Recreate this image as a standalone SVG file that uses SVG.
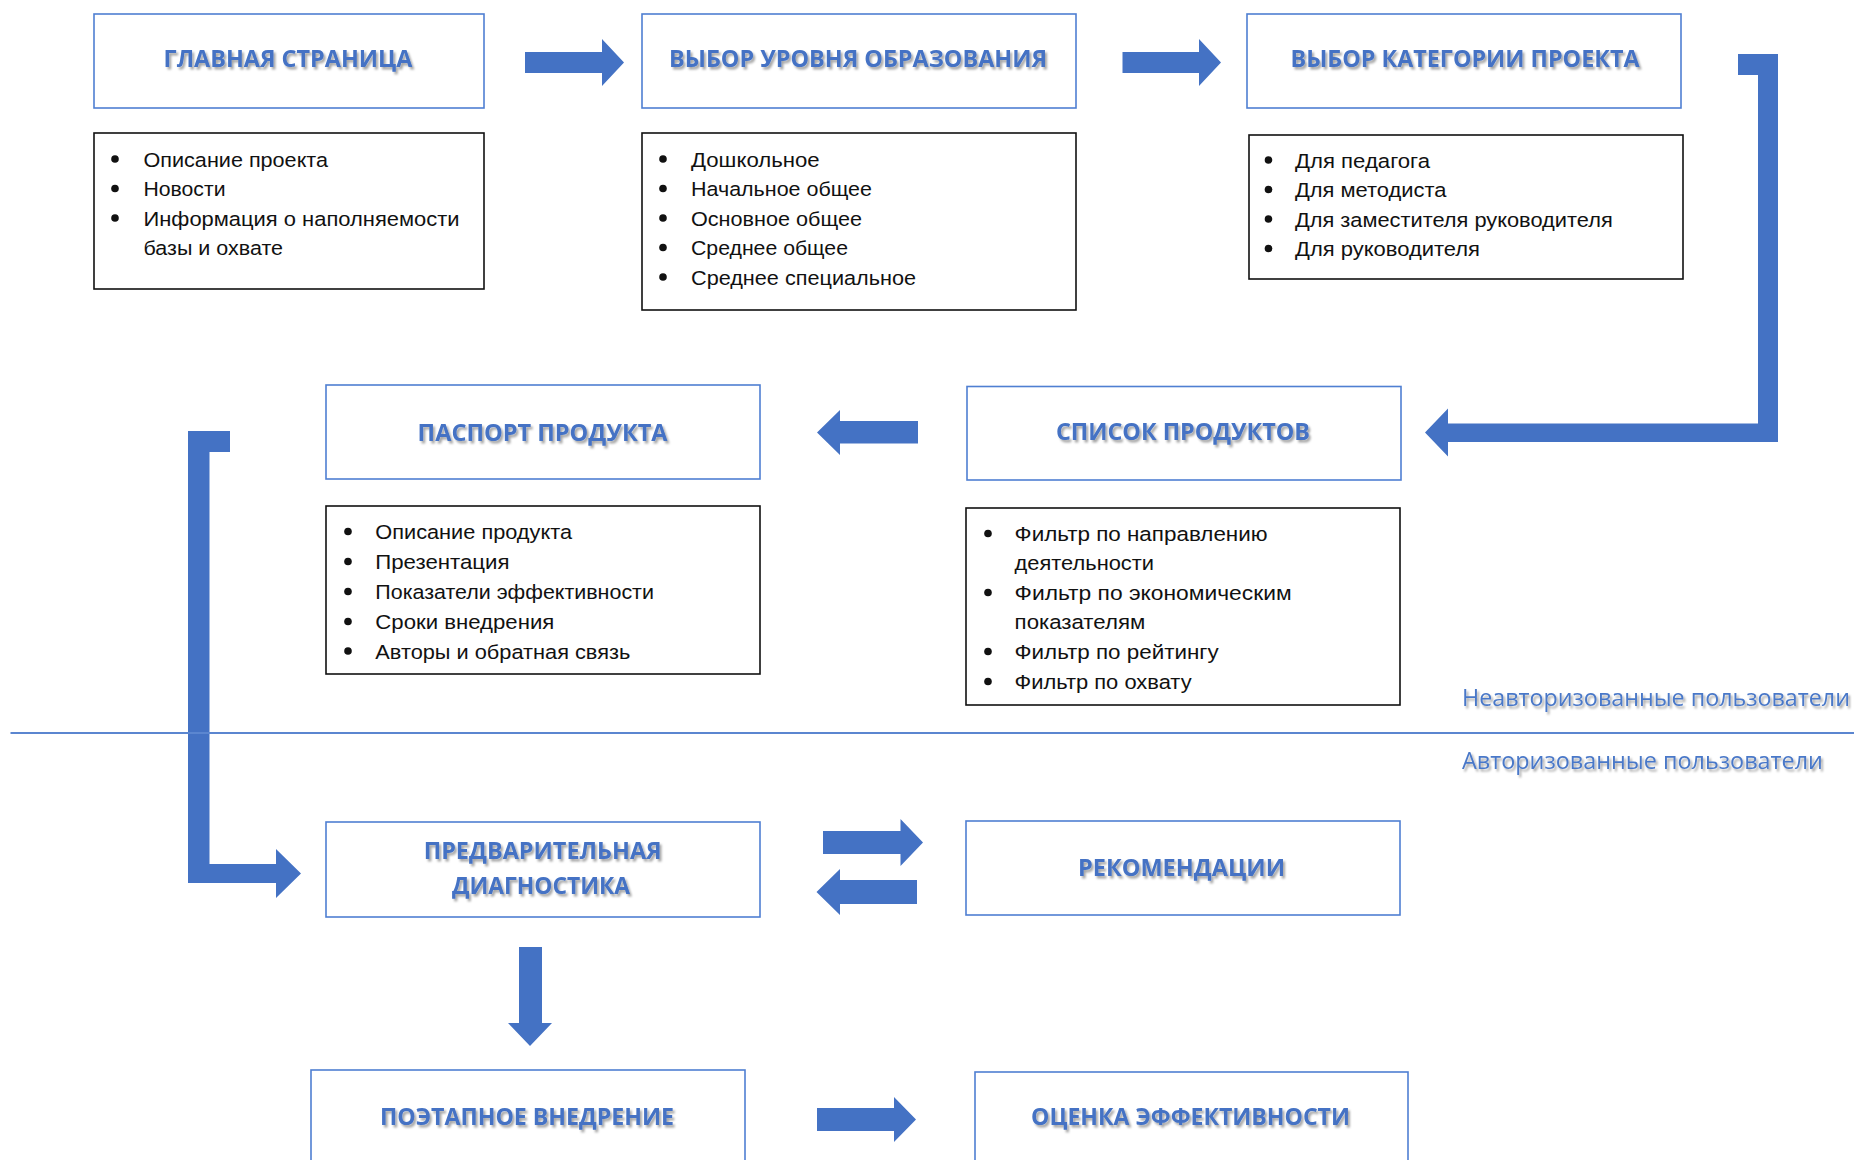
<svg xmlns="http://www.w3.org/2000/svg" width="1854" height="1160" viewBox="0 0 1854 1160">
<defs>
<filter id="sh" x="-10%" y="-40%" width="120%" height="180%">
<feDropShadow dx="2" dy="2.5" stdDeviation="1.3" flood-color="#000" flood-opacity="0.35"/>
</filter>
</defs>
<style>
.bx{fill:#fff;stroke:#4F7FD2;stroke-width:1.6}
.lb{fill:#fff;stroke:#111;stroke-width:1.6}
.t{font-family:"Open Sans","Liberation Sans",sans-serif;font-weight:700;font-size:24px;fill:#4472C4;text-anchor:middle;filter:url(#sh)}
.b{font-family:"Liberation Sans",Arial,sans-serif;font-size:20.5px;fill:#111}
.d{fill:#111}
.ar{fill:#4472C4}
.zl{font-family:"Open Sans","Liberation Sans",sans-serif;font-size:23.5px;fill:#4A78C8;filter:url(#sh)}
</style>
<rect width="1854" height="1160" fill="#fff"/>

<g id="connectors">
<polygon class="ar" points="525,52 602,52 602,39 624,62.5 602,86 602,73 525,73"/>
<polygon class="ar" points="1122.5,52 1199,52 1199,39 1221,62.5 1199,86 1199,73 1122.5,73"/>
<polygon class="ar" points="1738,54 1778,54 1778,442 1448,442 1448,456.5 1425,432.5 1448,408.5 1448,423.5 1758,423.5 1758,75 1738,75"/>
<polygon class="ar" points="918,421 840,421 840,410 817,432.5 840,455 840,443.5 918,443.5"/>
<polygon class="ar" points="230,431 188,431 188,883 276,883 276,898 301,873.5 276,849 276,864 209.5,864 209.5,452 230,452"/>
<polygon class="ar" points="823,831 900.5,831 900.5,819 923,842.5 900.5,866 900.5,854 823,854"/>
<polygon class="ar" points="917,880 840,880 840,869 816.5,892 840,915 840,904 917,904"/>
<polygon class="ar" points="519,947 542,947 542,1023 552,1023 530,1046 508,1023 519,1023"/>
<polygon class="ar" points="817,1108 894,1108 894,1097 916,1119.5 894,1142 894,1131 817,1131"/>
<line x1="10.5" y1="733" x2="1854" y2="733" stroke="#5B86D0" stroke-width="2"/>
</g>

<g id="node-main">
<rect class="bx" x="94" y="14" width="390" height="94"/>
<text class="t" x="288" y="67" textLength="249" lengthAdjust="spacingAndGlyphs">ГЛАВНАЯ СТРАНИЦА</text>
</g>
<g id="list-main">
<rect class="lb" x="94" y="133" width="390" height="156"/>
<circle class="d" cx="115" cy="159" r="3.8"/>
<circle class="d" cx="115" cy="188.5" r="3.8"/>
<circle class="d" cx="115" cy="218" r="3.8"/>
<text class="b" x="143.5" y="166.5" textLength="184.5" lengthAdjust="spacingAndGlyphs">Описание проекта</text>
<text class="b" x="143.5" y="196" textLength="82" lengthAdjust="spacingAndGlyphs">Новости</text>
<text class="b" x="143.5" y="225.5" textLength="316" lengthAdjust="spacingAndGlyphs">Информация о наполняемости</text>
<text class="b" x="143.5" y="255" textLength="139.5" lengthAdjust="spacingAndGlyphs">базы и охвате</text>
</g>

<g id="node-level">
<rect class="bx" x="642" y="14" width="434" height="94"/>
<text class="t" x="858" y="67" textLength="378" lengthAdjust="spacingAndGlyphs">ВЫБОР УРОВНЯ ОБРАЗОВАНИЯ</text>
</g>
<g id="list-level">
<rect class="lb" x="642" y="133" width="434" height="177"/>
<circle class="d" cx="663" cy="159" r="3.8"/>
<circle class="d" cx="663" cy="188.5" r="3.8"/>
<circle class="d" cx="663" cy="218" r="3.8"/>
<circle class="d" cx="663" cy="247.5" r="3.8"/>
<circle class="d" cx="663" cy="277" r="3.8"/>
<text class="b" x="691" y="166.5" textLength="128.7" lengthAdjust="spacingAndGlyphs">Дошкольное</text>
<text class="b" x="691" y="196" textLength="181" lengthAdjust="spacingAndGlyphs">Начальное общее</text>
<text class="b" x="691" y="225.5" textLength="171" lengthAdjust="spacingAndGlyphs">Основное общее</text>
<text class="b" x="691" y="255" textLength="157" lengthAdjust="spacingAndGlyphs">Среднее общее</text>
<text class="b" x="691" y="284.5" textLength="225" lengthAdjust="spacingAndGlyphs">Среднее специальное</text>
</g>

<g id="node-category">
<rect class="bx" x="1247" y="14" width="434" height="94"/>
<text class="t" x="1465" y="67" textLength="349" lengthAdjust="spacingAndGlyphs">ВЫБОР КАТЕГОРИИ ПРОЕКТА</text>
</g>
<g id="list-category">
<rect class="lb" x="1249" y="135" width="434" height="144"/>
<circle class="d" cx="1268.5" cy="160" r="3.8"/>
<circle class="d" cx="1268.5" cy="189.5" r="3.8"/>
<circle class="d" cx="1268.5" cy="219" r="3.8"/>
<circle class="d" cx="1268.5" cy="248.5" r="3.8"/>
<text class="b" x="1295" y="167.5" textLength="135" lengthAdjust="spacingAndGlyphs">Для педагога</text>
<text class="b" x="1295" y="197" textLength="151.5" lengthAdjust="spacingAndGlyphs">Для методиста</text>
<text class="b" x="1295" y="226.5" textLength="317.7" lengthAdjust="spacingAndGlyphs">Для заместителя руководителя</text>
<text class="b" x="1295" y="256" textLength="185" lengthAdjust="spacingAndGlyphs">Для руководителя</text>
</g>

<g id="node-passport">
<rect class="bx" x="326" y="385" width="434" height="94"/>
<text class="t" x="542.6" y="440.5" textLength="250" lengthAdjust="spacingAndGlyphs">ПАСПОРТ ПРОДУКТА</text>
</g>
<g id="list-passport">
<rect class="lb" x="326" y="506" width="434" height="168"/>
<circle class="d" cx="348" cy="531.5" r="3.8"/>
<circle class="d" cx="348" cy="561.5" r="3.8"/>
<circle class="d" cx="348" cy="591.5" r="3.8"/>
<circle class="d" cx="348" cy="621.5" r="3.8"/>
<circle class="d" cx="348" cy="651" r="3.8"/>
<text class="b" x="375.3" y="539" textLength="196.7" lengthAdjust="spacingAndGlyphs">Описание продукта</text>
<text class="b" x="375.3" y="569" textLength="134.2" lengthAdjust="spacingAndGlyphs">Презентация</text>
<text class="b" x="375.3" y="599" textLength="278.6" lengthAdjust="spacingAndGlyphs">Показатели эффективности</text>
<text class="b" x="375.3" y="629" textLength="179" lengthAdjust="spacingAndGlyphs">Сроки внедрения</text>
<text class="b" x="375.3" y="658.5" textLength="255" lengthAdjust="spacingAndGlyphs">Авторы и обратная связь</text>
</g>

<g id="node-products">
<rect class="bx" x="967" y="386.5" width="434" height="93.5"/>
<text class="t" x="1183" y="440" textLength="254" lengthAdjust="spacingAndGlyphs">СПИСОК ПРОДУКТОВ</text>
</g>
<g id="list-products">
<rect class="lb" x="966" y="508" width="434" height="197"/>
<circle class="d" cx="988" cy="533.5" r="3.8"/>
<circle class="d" cx="988" cy="592.5" r="3.8"/>
<circle class="d" cx="988" cy="651.5" r="3.8"/>
<circle class="d" cx="988" cy="681.5" r="3.8"/>
<text class="b" x="1014.6" y="541" textLength="253" lengthAdjust="spacingAndGlyphs">Фильтр по направлению</text>
<text class="b" x="1014.6" y="569.5" textLength="139.4" lengthAdjust="spacingAndGlyphs">деятельности</text>
<text class="b" x="1014.6" y="600" textLength="277" lengthAdjust="spacingAndGlyphs">Фильтр по экономическим</text>
<text class="b" x="1014.6" y="629" textLength="130.6" lengthAdjust="spacingAndGlyphs">показателям</text>
<text class="b" x="1014.6" y="659" textLength="204" lengthAdjust="spacingAndGlyphs">Фильтр по рейтингу</text>
<text class="b" x="1014.6" y="689" textLength="177" lengthAdjust="spacingAndGlyphs">Фильтр по охвату</text>
</g>

<g id="zone-labels">
<text class="zl" x="1462" y="706" textLength="388" lengthAdjust="spacingAndGlyphs">Неавторизованные пользователи</text>
<text class="zl" x="1462" y="768.5" textLength="361" lengthAdjust="spacingAndGlyphs">Авторизованные пользователи</text>
</g>

<g id="node-diagnostics">
<rect class="bx" x="326" y="822" width="434" height="95"/>
<text class="t" x="542.7" y="858.5" textLength="238" lengthAdjust="spacingAndGlyphs">ПРЕДВАРИТЕЛЬНАЯ</text>
<text class="t" x="541" y="893.5" textLength="178" lengthAdjust="spacingAndGlyphs">ДИАГНОСТИКА</text>
</g>

<g id="node-recommendations">
<rect class="bx" x="966" y="821" width="434" height="94"/>
<text class="t" x="1181.5" y="876" textLength="207" lengthAdjust="spacingAndGlyphs">РЕКОМЕНДАЦИИ</text>
</g>

<g id="node-implementation">
<rect class="bx" x="311" y="1070" width="434" height="110"/>
<text class="t" x="527" y="1125" textLength="294" lengthAdjust="spacingAndGlyphs">ПОЭТАПНОЕ ВНЕДРЕНИЕ</text>
</g>

<g id="node-evaluation">
<rect class="bx" x="975" y="1072" width="433" height="110"/>
<text class="t" x="1190.5" y="1125" textLength="319" lengthAdjust="spacingAndGlyphs">ОЦЕНКА ЭФФЕКТИВНОСТИ</text>
</g>
</svg>
